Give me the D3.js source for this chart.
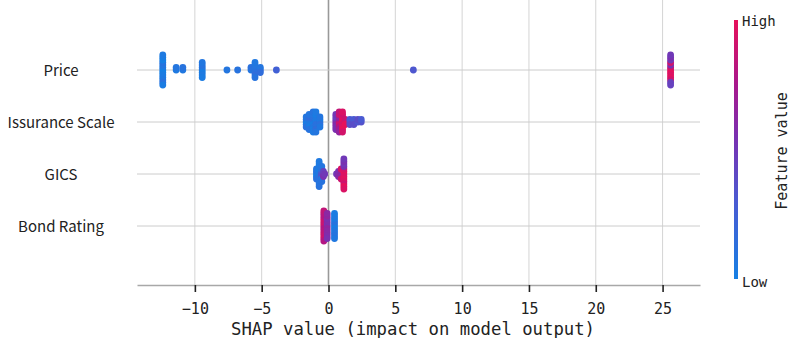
<!DOCTYPE html>
<html>
<head>
<meta charset="utf-8">
<script src="https://cdn.jsdelivr.net/npm/d3@7"></script>
<style>
  body { margin: 0; background: #fff; }
  svg { display: block; }
</style>
</head>
<body>
<div id="chart"></div>
<script>
const features = ["Price", "Issurance Scale", "GICS", "Bond Rating"];
const xTicks = [-10, -5, 0, 5, 10, 15, 20, 25];

// shap values and normalised feature values (0 = low, 1 = high)
const priceShap = [
  -12.4, -12.4, -12.4, -12.4, -12.4, -12.4, -12.4, -12.4, -12.4, -12.4, -12.4, -12.4, -12.4,
  -11.4, -11.4, -10.9, -10.9,
  -9.45, -9.45, -9.45, -9.45, -9.45, -9.45, -9.45,
  -7.6, -6.8,
  -5.8, -5.8, -5.5, -5.5, -5.5, -5.5, -5.5, -5.5, -5.5, -5.1, -5.1, -5.1,
  -3.9, 6.35,
  25.6, 25.6, 25.6, 25.6, 25.6, 25.6, 25.6, 25.6, 25.6, 25.6, 25.6, 25.6, 25.6
];
const priceFeat = [
  0.02, 0.05, 0.0, 0.08, 0.03, 0.1, 0.04, 0.0, 0.06, 0.02, 0.12, 0.05, 0.03,
  0.05, 0.08, 0.06, 0.1,
  0.04, 0.08, 0.02, 0.1, 0.05, 0.07, 0.03,
  0.08, 0.1,
  0.08, 0.12, 0.05, 0.1, 0.12, 0.08, 0.15, 0.06, 0.1, 0.12, 0.08, 0.15,
  0.25, 0.32,
  0.95, 0.9, 1.0, 0.55, 0.95, 0.92, 0.98, 0.5, 0.9, 0.55, 0.45, 0.5, 0.45
];

const issueShap = [
  -1.67, -1.67, -1.67, -1.67, -1.67,
  -1.45, -1.45, -1.45, -1.45, -1.45, -1.45, -1.45,
  -1.15, -1.15, -1.15, -1.15, -1.15, -1.15, -1.15, -1.15, -1.15,
  -0.94, -0.94, -0.94, -0.94, -0.94, -0.94, -0.94, -0.94, -0.94,
  -0.64, -0.64, -0.64, -0.64, -0.64,
  0.55, 0.55, 0.55, 0.55, 0.55, 0.55, 0.55,
  0.8, 0.8, 0.8, 0.8, 0.8, 0.8, 0.8, 0.8, 0.8,
  1.05, 1.05, 1.05, 1.05, 1.05, 1.05, 1.05, 1.05, 1.05,
  1.25, 1.25, 1.25,
  1.6, 1.6, 1.6, 1.9, 1.9, 1.9, 2.2, 2.2, 2.45, 2.45
];
const issueFeat = [
  0.05, 0.1, 0.02, 0.08, 0.12,
  0.04, 0.1, 0.06, 0.15, 0.02, 0.08, 0.1,
  0.05, 0.1, 0.02, 0.12, 0.06, 0.08, 0.03, 0.1, 0.05,
  0.08, 0.04, 0.12, 0.06, 0.1, 0.02, 0.15, 0.05, 0.08,
  0.1, 0.05, 0.12, 0.08, 0.06,
  0.55, 0.5, 0.6, 0.45, 0.55, 0.5, 0.55,
  0.85, 0.7, 0.9, 0.65, 0.8, 0.9, 0.7, 0.85, 0.65,
  0.95, 1.0, 0.92, 0.98, 0.95, 0.9, 1.0, 0.95, 0.92,
  0.95, 0.9, 1.0,
  0.35, 0.3, 0.38, 0.35, 0.3, 0.38, 0.32, 0.38, 0.35, 0.3
];

const gicsShap = [
  -0.9, -0.9, -0.9, -0.9, -0.9,
  -0.7, -0.7, -0.7, -0.7, -0.7, -0.7, -0.7, -0.7, -0.7, -0.7, -0.7,
  -0.5, -0.5, -0.5, -0.5, -0.5, -0.5, -0.5,
  -0.38, -0.38, -0.38, -0.28,
  0.6, 0.75, 0.75, 0.75, 0.95, 0.95, 0.95, 0.95, 0.95,
  1.15, 1.15, 1.15, 1.15, 1.15, 1.15, 1.15, 1.15, 1.15, 1.15, 1.15, 1.15, 1.15
];
const gicsFeat = [
  0.05, 0.1, 0.02, 0.08, 0.12,
  0.1, 0.05, 0.08, 0.02, 0.12, 0.06, 0.1, 0.04, 0.08, 0.05, 0.1,
  0.45, 0.3, 0.35, 0.1, 0.05, 0.08, 0.1,
  0.5, 0.45, 0.55, 0.5,
  0.5, 0.6, 0.55, 0.6, 0.7, 0.65, 0.6, 0.95, 0.9,
  0.95, 1.0, 0.95, 0.92, 0.98, 0.55, 0.95, 0.5, 0.9, 0.55, 1.0, 0.5, 0.95
];

const ratingShap = [
  -0.35, -0.35, -0.35, -0.35, -0.35, -0.35, -0.35, -0.35, -0.35, -0.35, -0.35, -0.35, -0.35,
  -0.1, -0.1, -0.1, -0.1, -0.1, -0.1, -0.1, -0.1, -0.1, -0.1, -0.1,
  0.45, 0.45, 0.45, 0.45, 0.45, 0.45, 0.45, 0.45, 0.45, 0.45, 0.45
];
const ratingFeat = [
  0.85, 0.9, 0.8, 0.88, 0.82, 0.9, 0.85, 0.8, 0.88, 0.82, 0.9, 0.85, 0.8,
  0.6, 0.55, 0.65, 0.58, 0.62, 0.55, 0.6, 0.65, 0.58, 0.62, 0.55,
  0.05, 0.08, 0.02, 0.1, 0.06, 0.04, 0.08, 0.05, 0.1, 0.03, 0.06
];

const rows = [
  [priceShap, priceFeat],
  [issueShap, issueFeat],
  [gicsShap, gicsFeat],
  [ratingShap, ratingFeat]
];

const width = 791, height = 338;
const svg = d3.select("#chart").append("svg")
  .attr("width", width)
  .attr("height", height);

const x = d3.scaleLinear().domain([-14.33, 27.8]).range([137, 700]);
const y = d3.scalePoint().domain(features).range([70, 226]);
const axisY = 285;

// blue -> violet -> purple -> crimson, as in the colour bar
const color = d3.scaleLinear()
  .domain([0, 0.3, 0.55, 0.75, 1])
  .range(["#1680e4", "#4a5ad2", "#7a30b0", "#a8188c", "#e6105a"])
  .interpolate(d3.interpolateRgb);

// vertical grid
svg.append("g").selectAll("line")
  .data(xTicks)
  .join("line")
  .attr("x1", d => x(d)).attr("x2", d => x(d))
  .attr("y1", 0).attr("y2", axisY)
  .attr("stroke", d => d === 0 ? "#999" : "#d4d4d4")
  .attr("stroke-width", d => d === 0 ? 1.6 : 1);

// row lines
svg.append("g").selectAll("line")
  .data(features)
  .join("line")
  .attr("x1", x.range()[0]).attr("x2", x.range()[1])
  .attr("y1", d => y(d)).attr("y2", d => y(d))
  .attr("stroke", "#cccccc")
  .attr("stroke-width", 1);

// x axis
const xAxis = svg.append("g")
  .attr("transform", "translate(0," + axisY + ")")
  .call(d3.axisBottom(x).tickValues(xTicks).tickSize(7).tickSizeOuter(0));
xAxis.select(".domain").attr("stroke", "#a8a8a8").attr("stroke-width", 1.5);
xAxis.selectAll(".tick line").attr("stroke", "#222").attr("stroke-width", 1.6);
xAxis.selectAll(".tick text")
  .attr("y", 29)
  .attr("dy", null)
  .attr("fill", "#222")
  .style("font-family", "'DejaVu Sans Mono', monospace")
  .style("font-size", "15px");

svg.append("text")
  .attr("x", 413)
  .attr("y", 335)
  .attr("text-anchor", "middle")
  .attr("textLength", 364)
  .attr("lengthAdjust", "spacingAndGlyphs")
  .attr("fill", "#222")
  .style("font-family", "'DejaVu Sans Mono', monospace")
  .style("font-size", "17px")
  .text("SHAP value (impact on model output)");

// feature labels
svg.append("g").selectAll("text")
  .data(features)
  .join("text")
  .attr("x", 61)
  .attr("y", d => y(d) + 6)
  .attr("text-anchor", "middle")
  .attr("fill", "#222")
  .style("font-family", "'Noto Sans CJK JP', sans-serif")
  .style("font-size", "15px")
  .text(d => d);

// beeswarm: stack equal values up/down around the row line
const step = 2.5;
rows.forEach(([shap, feat], r) => {
  const pts = shap.map((s, i) => ({ s: s, f: feat[i] }));
  d3.group(pts, d => d.s).forEach(list => {
    list.forEach((p, k) => { p.o = Math.ceil(k / 2) * (k % 2 ? 1 : -1); });
  });
  const cy = y(features[r]);
  svg.append("g").selectAll("circle")
    .data(pts)
    .join("circle")
    .attr("cx", d => x(d.s))
    .attr("cy", d => cy - d.o * step)
    .attr("r", 3.4)
    .attr("fill", d => color(d.f));
});

// colour bar
const defs = svg.append("defs");
const grad = defs.append("linearGradient")
  .attr("id", "cbar")
  .attr("x1", 0).attr("y1", 1).attr("x2", 0).attr("y2", 0);
d3.range(0, 1.01, 0.05).forEach(t => {
  grad.append("stop").attr("offset", t).attr("stop-color", color(t));
});
svg.append("rect")
  .attr("x", 734).attr("y", 20)
  .attr("width", 4).attr("height", 259)
  .attr("fill", "url(#cbar)");

svg.append("text")
  .attr("x", 742).attr("y", 26)
  .attr("fill", "#222")
  .style("font-family", "'DejaVu Sans Mono', monospace")
  .style("font-size", "14px")
  .text("High");
svg.append("text")
  .attr("x", 742).attr("y", 287)
  .attr("fill", "#222")
  .style("font-family", "'DejaVu Sans Mono', monospace")
  .style("font-size", "14px")
  .text("Low");
svg.append("text")
  .attr("transform", "translate(787,151) rotate(-90)")
  .attr("text-anchor", "middle")
  .attr("fill", "#222")
  .style("font-family", "'DejaVu Sans Mono', monospace")
  .style("font-size", "15px")
  .text("Feature value");
</script>
</body>
</html>
